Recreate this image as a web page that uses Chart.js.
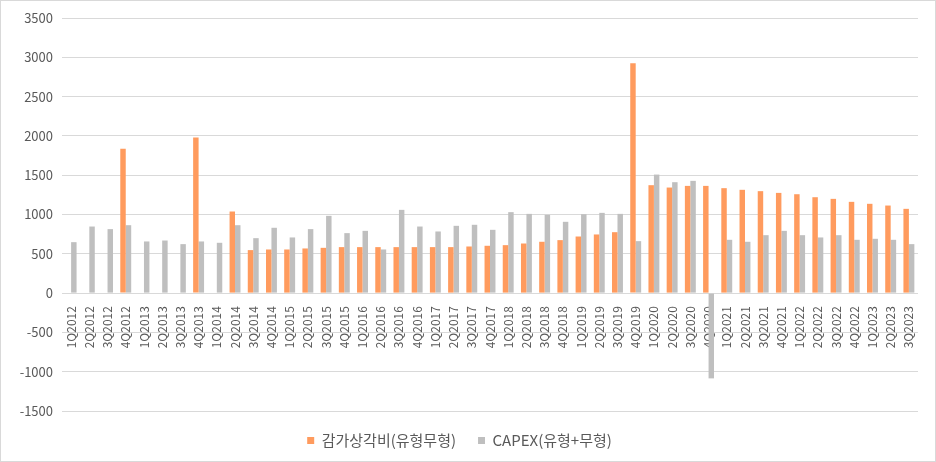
<!DOCTYPE html>
<html>
<head>
<meta charset="utf-8">
<script src="https://cdn.jsdelivr.net/npm/chart.js@4/dist/chart.umd.min.js"></script>
<style>
  html, body { margin: 0; padding: 0; background: #fff; }
  #wrap { width: 936px; height: 462px; box-sizing: border-box; border: 1px solid #d9d9d9; position: relative; }
  canvas { display: block; }
</style>
</head>
<body>
<div id="wrap"><canvas id="c" width="934" height="460"></canvas></div>
<script>
const quarters = [
  "1Q2012","2Q2012","3Q2012","4Q2012",
  "1Q2013","2Q2013","3Q2013","4Q2013",
  "1Q2014","2Q2014","3Q2014","4Q2014",
  "1Q2015","2Q2015","3Q2015","4Q2015",
  "1Q2016","2Q2016","3Q2016","4Q2016",
  "1Q2017","2Q2017","3Q2017","4Q2017",
  "1Q2018","2Q2018","3Q2018","4Q2018",
  "1Q2019","2Q2019","3Q2019","4Q2019",
  "1Q2020","2Q2020","3Q2020","4Q2020",
  "1Q2021","2Q2021","3Q2021","4Q2021",
  "1Q2022","2Q2022","3Q2022","4Q2022",
  "1Q2023","2Q2023","3Q2023"
];

// 감가상각비 (유형+무형)
const depreciation = [
  null, null, null, 1835,
  null, null, null, 1979,
  null, 1038, 547, 555,
  555, 568, 576, 585,
  585, 585, 585, 585,
  585, 585, 593, 602,
  610, 631, 653, 674,
  720, 746, 775, 2924,
  1373, 1343, 1364, 1364,
  1335, 1314, 1297, 1275,
  1258, 1220, 1199, 1161,
  1136, 1114, 1072
];

// CAPEX (유형+무형)
const capex = [
  648, 847, 814, 864,
  657, 669, 623, 657,
  640, 864, 699, 831,
  708, 814, 983, 763,
  792, 555, 1059, 847,
  784, 856, 869, 805,
  1030, 1008, 996, 907,
  1004, 1021, 1008, 661,
  1508, 1411, 1428, -1085,
  678, 653, 737, 792,
  737, 708, 737, 678,
  691, 678, 623
];

const yTicks = [3500, 3000, 2500, 2000, 1500, 1000, 500, 0, -500, -1000, -1500];

const textColor = "#595959";
const gridColor = "#d9d9d9";
const fontFamily = "'Noto Sans CJK KR', 'Noto Sans', sans-serif";

// legend sits lower than Chart.js puts it: give its box a fixed height
const legendBox = {
  id: "legendBox",
  beforeInit(chart) {
    const lg = chart.legend;
    const fit = lg.fit;
    lg.fit = function () { fit.call(this); this.height = 50; };
  }
};

new Chart(document.getElementById("c"), {
  type: "bar",
  data: {
    labels: quarters,
    datasets: [
      { label: "감가상각비(유형무형)", data: depreciation, backgroundColor: "#ff9b5e",
        categoryPercentage: 0.6, barPercentage: 1.0 },
      { label: "CAPEX(유형+무형)", data: capex, backgroundColor: "#bfbfbf",
        categoryPercentage: 0.6, barPercentage: 1.0 }
    ]
  },
  plugins: [legendBox],
  options: {
    responsive: false,
    animation: false,
    maintainAspectRatio: false,
    layout: { padding: { top: 17, right: 17, bottom: 0, left: 0 } },
    plugins: {
      tooltip: { enabled: false },
      legend: {
        position: "bottom",
        labels: {
          boxWidth: 7, boxHeight: 7, padding: 22,
          color: textColor,
          font: { family: fontFamily, size: 15 }
        }
      }
    },
    scales: {
      x: {
        position: { y: 0 },
        grid: { display: false },
        border: { display: false },
        ticks: {
          color: textColor, autoSkip: false,
          minRotation: 90, maxRotation: 90, padding: 5,
          font: { family: fontFamily, size: 12 }
        }
      },
      y: {
        min: -1500, max: 3500,
        afterBuildTicks: s => { s.ticks = yTicks.map(v => ({ value: v })); },
        afterFit: s => { s.width = 61; },
        grid: { color: gridColor, lineWidth: 1, drawTicks: false },
        border: { display: false },
        ticks: {
          color: textColor, padding: 9,
          callback: v => String(v),
          font: { family: fontFamily, size: 13 }
        }
      }
    }
  }
});
</script>
</body>
</html>
